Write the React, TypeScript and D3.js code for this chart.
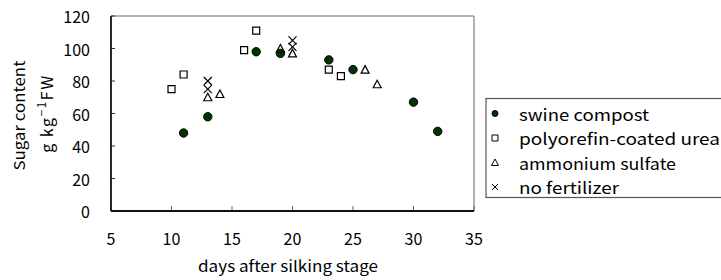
import React from 'react';
import * as d3 from 'd3';

const xTicks = [5, 10, 15, 20, 25, 30, 35];
const yTicks = [0, 20, 40, 60, 80, 100, 120];

const swineDays = [11, 13, 17, 19, 23, 25, 30, 32];
const swineSugar = [48, 58, 98, 97, 93, 87, 67, 49];

const pcuDays = [10, 11, 16, 17, 23, 24];
const pcuSugar = [75, 84, 99, 111, 87, 83];

const amsDays = [13, 14, 19, 20, 26, 27];
const amsSugar = [70, 72, 100, 97, 87, 78];

const noFertDays = [13, 13, 20, 20];
const noFertSugar = [80, 75, 105, 101];

const legendLabels = ['swine compost', 'polyorefin-coated urea', 'ammonium sulfate', 'no fertilizer'];
const legendWidths = [130, 201, 157, 100];

const font = '"Noto Sans CJK JP", "DejaVu Sans", sans-serif';

const squarePath = (cx: number, cy: number, s: number) =>
  `M${cx - s / 2},${cy - s / 2}h${s}v${s}h${-s}Z`;
const trianglePath = (cx: number, cy: number, s: number) =>
  `M${cx},${cy - s / 2}L${cx + s / 2},${cy + s / 2 - 0.5}L${cx - s / 2},${cy + s / 2 - 0.5}Z`;
const crossPath = (cx: number, cy: number, s: number) =>
  `M${cx - s / 2},${cy - s / 2}L${cx + s / 2},${cy + s / 2}M${cx + s / 2},${cy - s / 2}L${cx - s / 2},${cy + s / 2}`;

const App: React.FC = () => {
  const width = 721;
  const height = 280;
  const margin = { top: 16, right: 247, bottom: 69, left: 111 };

  const x = d3.scaleLinear().domain([5, 35]).range([margin.left, width - margin.right]);
  const y = d3.scaleLinear().domain([0, 120]).range([height - margin.bottom, margin.top]);

  const [x0, x1] = x.range();
  const [y0, y1] = y.range();
  const cy = (y0 + y1) / 2;

  const legendX = 486;
  const legendY = 98.5;
  const rowY = d3.scaleLinear().domain([0, 3]).range([113.5, 187]);

  return (
    <svg width={width} height={height} style={{ position: 'absolute', left: 0, top: 0, background: '#fff' }}
      fontFamily={font}>
      <rect x={0} y={0} width={width} height={height} fill="#fff" />

      {/* frame */}
      <line x1={x0} x2={x1} y1={y1} y2={y1} stroke="#999" strokeWidth={1.5} />
      <line x1={x1} x2={x1} y1={y1} y2={y0} stroke="#999" strokeWidth={1.5} />

      {/* y ticks */}
      {yTicks.map(t => (
        <g key={'y' + t}>
          <line x1={x0} x2={x0 + 4} y1={y(t)} y2={y(t)} stroke="#333" strokeWidth={1} />
          <text x={90} y={y(t) + 3} textAnchor="end" dominantBaseline="middle" fontSize={16} fill="#000">{t}</text>
        </g>
      ))}

      {/* x ticks */}
      {xTicks.map(t => (
        <g key={'x' + t}>
          <line x1={x(t)} x2={x(t)} y1={y0} y2={y0 - 5} stroke="#666" strokeWidth={1} />
          <text x={x(t)} y={245} textAnchor="middle" fontSize={16} fill="#000">{t}</text>
        </g>
      ))}

      {/* axes */}
      <line x1={x0} x2={x0} y1={y1} y2={y0} stroke="#111" strokeWidth={1.8} />
      <line x1={x0} x2={x1} y1={y0} y2={y0} stroke="#111" strokeWidth={1.8} />

      {/* swine compost */}
      {swineDays.map((d, i) => (
        <circle key={'s' + i} cx={x(d)} cy={y(swineSugar[i])} r={4.2} fill="#003300" stroke="#000" strokeWidth={1} />
      ))}

      {/* polyorefin-coated urea */}
      {pcuDays.map((d, i) => (
        <path key={'p' + i} d={squarePath(x(d), y(pcuSugar[i]), 7)} fill="#fff" stroke="#000" strokeWidth={1.2} />
      ))}

      {/* ammonium sulfate */}
      {amsDays.map((d, i) => (
        <path key={'a' + i} d={trianglePath(x(d), y(amsSugar[i]), 8)} fill="none" stroke="#000" strokeWidth={1.2} />
      ))}

      {/* no fertilizer */}
      {noFertDays.map((d, i) => (
        <path key={'n' + i} d={crossPath(x(d), y(noFertSugar[i]), 8)} fill="none" stroke="#000" strokeWidth={1.2} />
      ))}

      {/* axis titles */}
      <text x={288} y={272} textAnchor="middle" fontSize={15} fill="#000" textLength={180} lengthAdjust="spacingAndGlyphs">
        days after silking stage
      </text>
      <text transform={`translate(25,${cy + 2}) rotate(-90)`} textAnchor="middle" fontSize={15} fill="#000"
        textLength={110} lengthAdjust="spacingAndGlyphs">
        Sugar content
      </text>
      <text transform={`translate(53,${cy}) rotate(-90)`} textAnchor="middle" fontSize={16} fill="#000" letterSpacing={1.5}>
        g kg<tspan dy={-7} fontSize={12}>−1</tspan><tspan dy={7}>FW</tspan>
      </text>

      {/* legend */}
      <rect x={legendX} y={legendY} width={260} height={99} fill="#fff" stroke="#555" strokeWidth={1.2} />
      {legendLabels.map((label, i) => {
        const ry = rowY(i);
        const mx = 495;
        return (
          <g key={'l' + i}>
            {i === 0 && <circle cx={mx} cy={ry} r={3} fill="#003300" stroke="#000" strokeWidth={1} />}
            {i === 1 && <path d={squarePath(mx, ry, 6)} fill="#fff" stroke="#000" strokeWidth={1} />}
            {i === 2 && <path d={trianglePath(mx, ry, 7)} fill="none" stroke="#000" strokeWidth={1} />}
            {i === 3 && <path d={crossPath(mx, ry, 6)} fill="none" stroke="#000" strokeWidth={1} />}
            <text x={519} y={ry} dominantBaseline="central" fontSize={16} fill="#000"
              textLength={legendWidths[i]} lengthAdjust="spacingAndGlyphs">{label}</text>
          </g>
        );
      })}
    </svg>
  );
};

export default App;
